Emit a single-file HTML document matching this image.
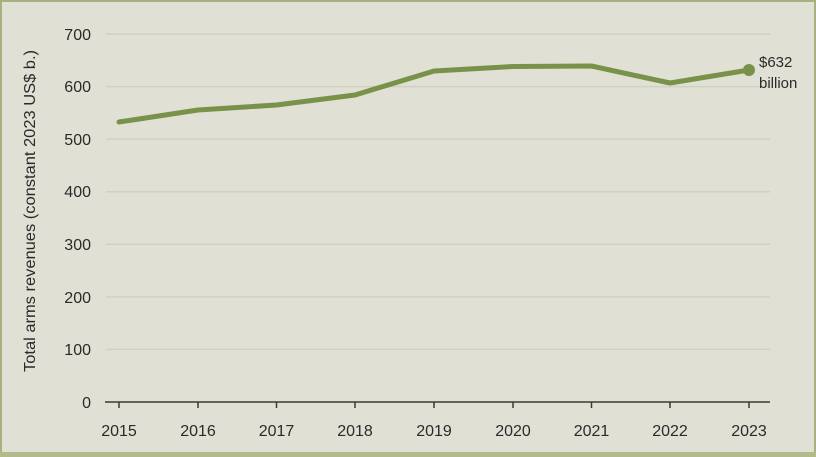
<!DOCTYPE html>
<html><head><meta charset="utf-8"><style>
html,body{margin:0;padding:0;background:#e0e1d4}
svg{display:block}
text{font-family:"Liberation Sans",sans-serif;fill:#2a2a2a}
</style></head><body>
<svg width="816" height="457" viewBox="0 0 816 457">
<rect x="0" y="0" width="816" height="457" fill="#e0e1d4"/>
<rect x="1" y="1" width="814" height="452" fill="none" stroke="#a7b080" stroke-width="2"/>
<rect x="0" y="452" width="816" height="5" fill="#b2bb8c"/>
<g stroke="#d0d1c3" stroke-width="1.5">
<line x1="106" x2="770" y1="34" y2="34"/>
<line x1="106" x2="770" y1="86.6" y2="86.6"/>
<line x1="106" x2="770" y1="139.1" y2="139.1"/>
<line x1="106" x2="770" y1="191.7" y2="191.7"/>
<line x1="106" x2="770" y1="244.3" y2="244.3"/>
<line x1="106" x2="770" y1="296.9" y2="296.9"/>
<line x1="106" x2="770" y1="349.4" y2="349.4"/>
</g>
<line x1="105" x2="770" y1="402" y2="402" stroke="#3a3a30" stroke-width="1.5"/>
<g stroke="#3a3a30" stroke-width="1.5">
<line x1="119" x2="119" y1="402" y2="408"/><line x1="198" x2="198" y1="402" y2="408"/>
<line x1="276.5" x2="276.5" y1="402" y2="408"/><line x1="355" x2="355" y1="402" y2="408"/>
<line x1="434" x2="434" y1="402" y2="408"/><line x1="513" x2="513" y1="402" y2="408"/>
<line x1="591.5" x2="591.5" y1="402" y2="408"/><line x1="670" x2="670" y1="402" y2="408"/>
<line x1="749" x2="749" y1="402" y2="408"/>
</g>
<g font-size="16" text-anchor="end">
<text x="91" y="40">700</text><text x="91" y="92">600</text><text x="91" y="145">500</text>
<text x="91" y="197">400</text><text x="91" y="250">300</text><text x="91" y="303">200</text>
<text x="91" y="355">100</text><text x="91" y="408">0</text>
</g>
<g font-size="16" text-anchor="middle">
<text x="119" y="436">2015</text><text x="198" y="436">2016</text><text x="276.5" y="436">2017</text>
<text x="355" y="436">2018</text><text x="434" y="436">2019</text><text x="513" y="436">2020</text>
<text x="591.5" y="436">2021</text><text x="670" y="436">2022</text><text x="749" y="436">2023</text>
</g>
<text transform="translate(35,211) rotate(-90)" font-size="16" text-anchor="middle" textLength="322" lengthAdjust="spacingAndGlyphs">Total arms revenues (constant 2023 US$ b.)</text>
<polyline fill="none" stroke="#78924a" stroke-width="5" stroke-linejoin="round" stroke-linecap="round"
points="119,122 198,110 276.5,105 355,95 434,71 513,66.5 591.5,66 670,83 749,70"/>
<circle cx="749" cy="70" r="6" fill="#78924a"/>
<text x="759" y="67" font-size="15">$632</text>
<text x="759" y="88" font-size="15">billion</text>
</svg>
</body></html>
